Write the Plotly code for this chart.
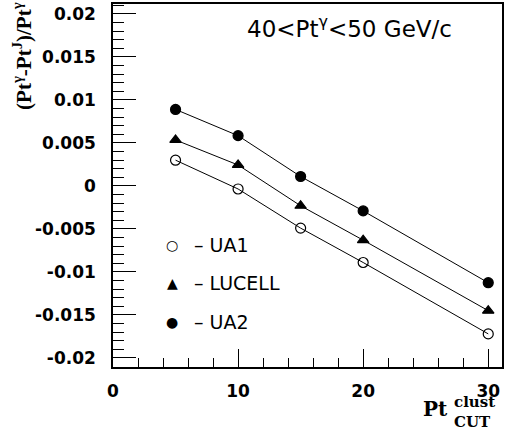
import plotly.graph_objects as go

# ---- data ----
pt_cut = [5, 10, 15, 20, 30]
ua1 = [0.0030, -0.00035, -0.0049, -0.0089, -0.0172]
lucell = [0.00535, 0.00244, -0.0023, -0.0063, -0.0145]
ua2 = [0.0089, 0.00585, 0.0011, -0.0029, -0.01125]

x_tickvals = [0, 10, 20, 30]
x_ticktext = ["0", "10", "20", "30"]
y_tickvals = [0.02, 0.015, 0.01, 0.005, 0, -0.005, -0.01, -0.015, -0.02]
y_ticktext = ["0.02", "0.015", "0.01", "0.005", "0", "-0.005", "-0.01", "-0.015", "-0.02"]

series = [
    ("UA1", ua1, "circle-open"),
    ("LUCELL", lucell, "triangle-up"),
    ("UA2", ua2, "circle"),
]

fig = go.Figure()
for name, vals, sym in series:
    fig.add_trace(go.Scatter(
        x=pt_cut, y=vals, mode="lines+markers", name=name,
        line=dict(color="black", width=1),
        marker=dict(symbol=sym, size=10, color="black",
                    line=dict(color="black", width=1.2)),
        showlegend=False, hoverinfo="skip",
    ))

tickfont = dict(family="DejaVu Sans", size=17, color="black", weight="bold")

fig.update_layout(
    width=520, height=430,
    margin=dict(l=113, r=18, t=4, b=63, autoexpand=False),
    paper_bgcolor="white", plot_bgcolor="white",
    xaxis=dict(
        range=[0, 31.1], showgrid=False, zeroline=False, automargin=False,
        showline=True, linecolor="black", linewidth=1.5, mirror=True,
        tickmode="array", tickvals=x_tickvals, ticktext=x_ticktext,
        ticks="inside", ticklen=18, tickwidth=1.2, tickcolor="black",
        minor=dict(tickmode="linear", tick0=0, dtick=2, ticks="inside",
                   ticklen=9, tickwidth=1.2, tickcolor="black"),
        tickfont=tickfont, ticklabelstandoff=8,
    ),
    yaxis=dict(
        range=[-0.02105, 0.02116], showgrid=False, zeroline=False, automargin=False,
        showline=True, linecolor="black", linewidth=1.5, mirror=True,
        tickmode="array", tickvals=y_tickvals, ticktext=y_ticktext,
        ticks="inside", ticklen=23, tickwidth=1.2, tickcolor="black",
        minor=dict(tickmode="linear", tick0=0, dtick=0.001, ticks="inside",
                   ticklen=11, tickwidth=1.2, tickcolor="black"),
        tickfont=tickfont, ticklabelstandoff=12,
    ),
)

serif = "Liberation Serif"
ann = []
# y title
ann.append(dict(text="(Pt<sup>γ</sup>-Pt<sup>J</sup>)/Pt<sup>γ</sup>",
                xref="paper", yref="paper", x=-0.2314, y=0.857,
                xanchor="center", yanchor="middle", textangle=-90, showarrow=False,
                font=dict(family=serif, size=21, color="black", weight="bold")))
# x title
ann.append(dict(text="Pt", xref="paper", yref="paper", x=0.792, y=-0.154,
                xanchor="left", yanchor="bottom", showarrow=False,
                font=dict(family="DejaVu Serif", size=20, color="black", weight="bold")))
ann.append(dict(text="clust<br>CUT", xref="paper", yref="paper", x=0.8715, y=-0.124,
                xanchor="left", yanchor="middle", align="left", showarrow=False,
                font=dict(family="DejaVu Serif", size=15, color="black", weight="bold")))
# range label
ann.append(dict(text="40&lt;Pt<sup>γ</sup>&lt;50 GeV/c", xref="paper", yref="paper",
                x=0.609, y=0.9366, xanchor="center", yanchor="middle", showarrow=False,
                font=dict(family="DejaVu Sans", size=23, color="black")))
# in-plot key
key_rows = [("○", "UA1", 0.336), ("▲", "LUCELL", 0.2314), ("●", "UA2", 0.124)]
for sym, label, yy in key_rows:
    ann.append(dict(text=sym, xref="paper", yref="paper", x=0.1517, y=yy,
                    xanchor="center", yanchor="middle", showarrow=False,
                    font=dict(family="DejaVu Sans", size=14, color="black")))
    ann.append(dict(text="– " + label, xref="paper", yref="paper", x=0.203, y=yy,
                    xanchor="left", yanchor="middle", showarrow=False,
                    font=dict(family="DejaVu Sans", size=19, color="black")))
fig.update_layout(annotations=ann)

fig.write_html("out.html", config={"displayModeBar": False},
               post_script="document.body.style.margin='0';")
